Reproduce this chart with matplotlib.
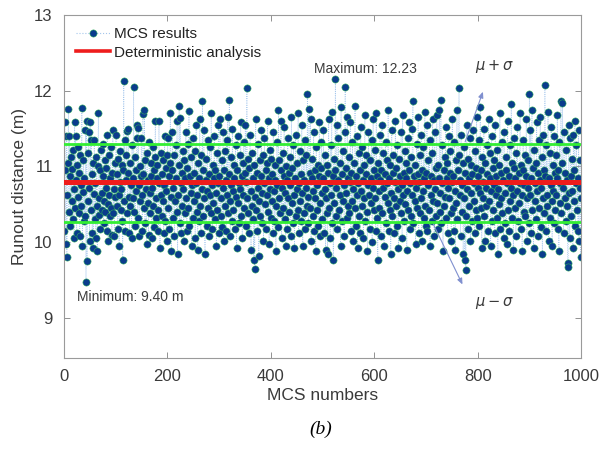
import numpy as np
import matplotlib
import matplotlib.pyplot as plt
from matplotlib.lines import Line2D

matplotlib.use("Agg")
plt.rcParams["font.family"] = ["Liberation Sans", "DejaVu Sans"]

# ── Data ──────────────────────────────────────────────────────────────────────
runout = [
    # 0-49
    10.15, 11.58, 10.95, 9.98, 11.40, 9.80, 10.62, 11.05, 11.76, 10.40,
    11.40, 10.88, 10.22, 11.12, 10.55, 10.97, 10.30, 11.22, 10.70, 10.05,
    11.58, 10.45, 11.40, 10.82, 10.12, 11.02, 10.60, 11.25, 10.38, 10.92,
    10.08, 11.15, 10.48, 10.75, 11.77, 9.95, 10.66, 11.08, 10.28, 10.85,
    10.35, 11.48, 9.47, 11.60, 9.75, 10.55, 11.18, 11.45, 10.72, 10.02,
    # 50-99
    11.58, 10.42, 11.35, 10.90, 10.12, 11.05, 9.92, 10.64, 11.35, 10.30,
    10.78, 10.05, 11.12, 10.48, 9.88, 11.00, 11.71, 10.36, 10.58, 10.95,
    10.18, 11.22, 10.65, 10.42, 10.88, 11.30, 10.25, 10.55, 11.08, 10.40,
    10.72, 10.98, 10.15, 11.42, 10.50, 10.02, 11.15, 10.62, 10.35, 10.85,
    11.25, 10.45, 10.10, 10.92, 11.48, 10.38, 10.70, 10.08, 11.05, 10.60,
    # 100-149
    11.42, 10.48, 10.90, 10.18, 11.10, 10.62, 9.95, 10.80, 11.20, 10.42,
    10.70, 11.02, 10.28, 9.77, 10.95, 12.13, 10.55, 11.35, 10.15, 10.82,
    11.15, 11.47, 10.38, 10.92, 11.49, 10.60, 10.12, 11.05, 10.48, 10.75,
    10.05, 11.28, 10.58, 10.85, 12.05, 10.40, 11.12, 10.22, 10.68, 10.95,
    11.55, 11.38, 10.32, 11.51, 10.75, 10.08, 11.00, 10.55, 10.88, 11.38,
    # 150-199
    10.62, 10.15, 11.69, 10.90, 10.45, 11.75, 10.25, 11.08, 10.70, 9.98,
    11.18, 10.52, 10.82, 10.10, 11.32, 10.65, 10.38, 11.05, 10.88, 10.05,
    10.72, 11.25, 10.48, 10.95, 10.20, 11.12, 11.60, 10.58, 10.32, 10.85,
    11.02, 10.42, 10.15, 11.60, 10.78, 9.92, 10.62, 11.18, 10.35, 10.90,
    10.55, 11.08, 10.12, 10.75, 11.40, 10.28, 10.98, 10.68, 10.02, 11.15,
    # 200-249
    11.38, 10.45, 10.88, 10.18, 11.05, 11.70, 10.60, 9.88, 10.95, 11.46,
    10.32, 10.72, 11.15, 10.08, 10.55, 11.28, 10.85, 10.40, 11.60, 9.85,
    10.62, 11.02, 11.80, 10.25, 11.64, 10.78, 10.12, 10.92, 10.48, 11.20,
    10.70, 10.02, 11.08, 10.38, 10.85, 11.45, 10.58, 10.15, 10.98, 11.30,
    10.45, 11.73, 10.22, 10.88, 10.65, 11.12, 9.95, 10.75, 11.38, 10.32,
    # 250-299
    10.92, 10.55, 11.20, 10.05, 10.78, 11.55, 10.40, 10.62, 9.90, 11.05,
    10.28, 10.85, 11.62, 10.48, 10.12, 11.15, 10.70, 11.86, 10.35, 10.95,
    11.48, 10.58, 9.85, 10.82, 11.10, 10.22, 10.68, 11.35, 10.45, 10.90,
    10.08, 11.25, 10.62, 10.38, 11.70, 10.75, 10.18, 11.02, 10.52, 10.85,
    11.40, 10.30, 10.95, 10.65, 9.95, 11.18, 10.42, 10.78, 11.55, 10.12,
    # 300-349
    10.88, 11.62, 10.35, 10.58, 11.08, 10.20, 10.72, 11.45, 10.02, 10.95,
    11.20, 10.48, 10.82, 10.15, 11.35, 10.62, 11.65, 10.38, 10.90, 11.88,
    10.55, 10.08, 11.12, 10.75, 10.28, 11.50, 10.68, 10.42, 11.02, 10.85,
    10.18, 11.28, 10.60, 9.92, 10.95, 11.40, 10.52, 10.78, 10.25, 11.15,
    10.70, 11.58, 10.35, 10.88, 10.05, 11.05, 10.62, 11.32, 10.45, 10.92,
    # 350-399
    11.55, 10.22, 10.80, 12.04, 10.58, 11.10, 10.38, 10.98, 10.12, 11.42,
    10.68, 9.90, 11.18, 10.48, 10.85, 10.30, 9.76, 11.02, 9.65, 10.60,
    11.62, 10.42, 10.92, 10.15, 11.30, 10.72, 9.82, 10.55, 11.08, 10.35,
    10.88, 11.48, 10.25, 10.65, 11.15, 10.02, 10.78, 11.38, 10.50, 10.95,
    10.18, 11.05, 10.62, 11.60, 10.40, 10.85, 9.98, 11.22, 10.70, 10.32,
    # 400-449
    11.10, 10.55, 10.90, 10.12, 11.45, 10.68, 10.28, 11.02, 10.82, 9.88,
    10.48, 11.32, 10.75, 10.20, 11.74, 10.58, 11.08, 10.38, 10.95, 11.60,
    10.05, 10.72, 11.18, 10.45, 10.88, 11.52, 10.30, 10.65, 9.95, 11.00,
    10.82, 10.18, 11.38, 10.58, 10.92, 10.40, 11.12, 10.75, 10.08, 11.65,
    10.52, 10.98, 10.25, 11.28, 10.62, 9.92, 10.85, 11.42, 10.35, 10.70,
    # 450-499
    11.05, 10.42, 11.70, 10.12, 10.78, 11.20, 10.55, 10.90, 10.28, 11.55,
    10.65, 9.95, 11.08, 10.38, 10.82, 11.35, 10.18, 10.72, 11.15, 10.48,
    11.96, 10.60, 10.25, 11.76, 10.92, 10.45, 11.62, 10.02, 10.85, 11.10,
    10.35, 10.68, 11.45, 10.15, 10.95, 10.58, 9.88, 11.25, 10.75, 10.42,
    11.02, 10.22, 10.88, 11.58, 10.52, 10.08, 10.98, 11.32, 10.65, 10.30,
    # 500-549
    10.85, 11.48, 10.12, 10.70, 11.15, 9.90, 10.58, 11.02, 10.38, 9.85,
    10.92, 11.62, 10.45, 10.78, 10.05, 11.28, 10.62, 11.72, 10.25, 10.88,
    9.77, 11.10, 10.52, 10.95, 12.15, 10.35, 10.72, 11.55, 10.18, 10.82,
    11.38, 10.42, 11.05, 10.62, 9.95, 11.78, 10.28, 10.90, 11.20, 10.55,
    10.75, 10.08, 11.45, 12.05, 10.65, 10.98, 10.32, 11.65, 10.48, 10.85,
    # 550-599
    11.12, 10.38, 10.80, 11.58, 10.15, 10.92, 10.55, 11.32, 10.02, 10.70,
    11.05, 10.45, 11.80, 10.22, 10.88, 10.62, 11.40, 9.92, 10.78, 11.18,
    10.35, 10.95, 10.12, 11.52, 10.68, 10.48, 11.25, 10.82, 10.05, 11.02,
    10.58, 11.68, 10.28, 10.90, 11.15, 10.40, 9.88, 10.75, 11.45, 10.62,
    10.18, 11.08, 10.85, 10.52, 11.35, 10.00, 10.72, 11.62, 10.42, 10.95,
    # 600-649
    11.22, 10.58, 10.15, 11.70, 10.88, 10.32, 9.76, 11.05, 10.68, 10.45,
    11.42, 10.82, 10.08, 10.95, 11.55, 10.38, 10.72, 11.18, 9.95, 10.60,
    10.90, 11.32, 10.25, 10.78, 11.08, 10.52, 11.75, 10.15, 10.85, 10.42,
    11.02, 9.85, 10.65, 11.48, 10.35, 10.92, 11.15, 10.58, 10.12, 10.80,
    11.60, 10.48, 10.98, 10.22, 11.28, 10.70, 9.92, 11.10, 10.55, 10.88,
    # 650-699
    10.38, 11.45, 10.75, 10.05, 11.68, 10.62, 10.92, 10.28, 11.20, 10.50,
    10.85, 11.05, 9.90, 10.68, 11.38, 10.42, 10.95, 11.58, 10.18, 10.78,
    11.12, 10.35, 10.62, 11.50, 11.86, 10.25, 10.88, 11.02, 10.55, 9.98,
    10.72, 11.30, 10.45, 10.90, 11.65, 10.12, 10.80, 11.15, 10.38, 10.58,
    11.42, 10.02, 10.95, 10.68, 11.25, 10.32, 10.85, 11.72, 10.48, 10.22,
    # 700-749
    10.92, 11.55, 10.15, 10.75, 11.08, 10.42, 11.35, 9.95, 10.62, 10.88,
    11.18, 10.28, 11.62, 10.55, 10.82, 10.08, 11.45, 10.70, 10.98, 10.35,
    11.68, 10.52, 10.18, 11.02, 10.85, 11.75, 10.40, 10.65, 11.88, 10.25,
    10.78, 11.28, 9.88, 10.95, 10.48, 11.12, 10.60, 11.52, 10.32, 10.85,
    11.05, 10.12, 10.72, 11.40, 10.58, 10.92, 11.20, 10.38, 10.02, 10.80,
    # 750-799
    11.62, 10.45, 10.88, 10.15, 11.32, 10.68, 9.90, 11.08, 10.52, 11.75,
    10.30, 10.95, 11.15, 12.04, 10.62, 10.82, 10.08, 11.42, 10.40, 10.75,
    11.05, 9.85, 10.58, 11.25, 9.76, 10.92, 9.64, 10.35, 11.55, 10.70,
    10.18, 11.10, 10.48, 10.85, 11.38, 10.02, 10.65, 11.02, 10.28, 10.90,
    11.48, 10.55, 10.78, 10.12, 11.20, 10.42, 10.98, 11.65, 10.32, 10.72,
    # 800-849
    10.88, 11.35, 10.22, 10.65, 11.78, 10.45, 10.95, 9.92, 11.12, 10.58,
    10.80, 11.50, 10.35, 10.02, 11.05, 10.72, 10.48, 11.28, 10.90, 10.15,
    11.62, 10.55, 10.85, 11.18, 9.95, 10.68, 11.40, 10.28, 10.98, 10.42,
    10.75, 11.08, 10.12, 11.55, 10.62, 10.88, 10.32, 11.22, 9.85, 10.70,
    11.02, 10.50, 11.70, 10.18, 10.92, 10.58, 11.32, 10.38, 10.82, 10.05,
    # 850-899
    11.45, 10.65, 10.25, 10.95, 11.12, 9.98, 10.78, 11.60, 10.42, 10.88,
    10.15, 11.28, 10.55, 10.72, 11.82, 10.32, 11.05, 10.62, 9.90, 10.98,
    11.38, 10.45, 10.85, 10.08, 11.18, 10.68, 11.52, 10.28, 10.92, 10.52,
    10.78, 11.70, 10.18, 11.02, 10.62, 9.88, 10.95, 11.35, 10.40, 10.75,
    11.15, 10.35, 10.88, 11.62, 10.02, 10.58, 11.08, 10.72, 10.25, 11.96,
    # 900-949
    10.62, 11.48, 10.12, 10.85, 11.75, 10.42, 10.98, 9.92, 11.22, 10.55,
    10.78, 11.05, 10.30, 11.58, 10.68, 10.08, 10.92, 11.35, 10.45, 10.82,
    11.65, 10.20, 10.72, 11.12, 9.85, 10.58, 11.42, 10.95, 10.38, 12.08,
    10.88, 10.15, 11.28, 10.62, 10.48, 11.72, 10.02, 10.85, 11.18, 10.32,
    10.75, 11.52, 10.55, 9.95, 11.02, 10.68, 10.25, 11.40, 10.92, 10.42,
    # 950-999
    11.15, 10.62, 10.85, 11.68, 10.18, 10.95, 9.88, 11.32, 10.52, 10.78,
    11.86, 10.38, 11.05, 11.84, 10.72, 10.12, 11.45, 10.58, 10.92, 10.28,
    11.22, 10.48, 10.82, 9.73, 9.67, 11.55, 10.65, 10.05, 11.38, 10.88,
    10.35, 11.10, 10.68, 9.92, 11.42, 10.55, 10.95, 11.60, 10.22, 10.78,
    11.28, 10.42, 10.85, 10.15, 11.48, 10.02, 10.72, 11.08, 9.80, 10.58,
]
mcs_numbers = np.arange(1, len(runout) + 1)

deterministic = 10.79
mu_plus_sigma = 11.29
mu_minus_sigma = 10.27
max_label = "Maximum: 12.23"
min_label = "Minimum: 9.40 m"

# ── Figure ────────────────────────────────────────────────────────────────────
fig = plt.figure(figsize=(6.13, 4.5), dpi=100)
ax = fig.add_axes([0.104, 0.204, 0.844, 0.763])

DOT_FACE = "#0a3c8c"
DOT_EDGE = "#35b855"
GREEN = "#33ee33"
RED = "#ee1c1c"
TXT = "#3a3a3a"

ax.plot(mcs_numbers, runout, linestyle=":", color="#a4c6ec", linewidth=0.6,
        marker="o", markersize=5.2, markerfacecolor=DOT_FACE,
        markeredgecolor=DOT_EDGE, markeredgewidth=0.35, zorder=2)

ax.axhline(mu_plus_sigma, color=GREEN, linewidth=2.0, zorder=3)
ax.axhline(mu_minus_sigma, color=GREEN, linewidth=2.0, zorder=3)
ax.axhline(deterministic, color=RED, linewidth=3.6, zorder=4)

ax.set_xlim(0, 1000)
ax.set_ylim(8.47, 13.0)
ax.set_xticks([0, 200, 400, 600, 800, 1000])
ax.set_yticks([9, 10, 11, 12, 13])
ax.tick_params(direction="in", top=True, right=True, length=4, width=0.6,
               color="#808080", labelsize=12, labelcolor=TXT, pad=8)
for s in ax.spines.values():
    s.set_color("#9a9a9a")
    s.set_linewidth(0.8)

ax.set_xlabel("MCS numbers", fontsize=12.5, color=TXT, labelpad=3)
ax.set_ylabel("Runout distance (m)", fontsize=12.5, color=TXT, labelpad=5)

# annotations
ax.text(484, 12.29, max_label, fontsize=10, color=TXT, va="center")
ax.text(25, 9.28, min_label, fontsize=10, color=TXT, va="center")
ax.text(795, 12.32, r"$\mu + \sigma$", fontsize=10.5, color=TXT, va="center")
ax.text(795, 9.20, r"$\mu - \sigma$", fontsize=10.5, color=TXT, va="center")

arrow_kw = dict(arrowstyle="-|>,head_length=0.35,head_width=0.15",
                color="#7f8fcf", linewidth=0.8)
ax.annotate("", xy=(812, 12.02), xytext=(774, mu_plus_sigma), arrowprops=arrow_kw)
ax.annotate("", xy=(773, 9.41), xytext=(712, mu_minus_sigma), arrowprops=arrow_kw)

handles = [
    Line2D([], [], linestyle=":", color="#a4c6ec", linewidth=0.8, marker="o",
           markersize=5.2, markerfacecolor=DOT_FACE, markeredgecolor=DOT_EDGE,
           markeredgewidth=0.35),
    Line2D([], [], color=RED, linewidth=2.6),
]
ax.legend(handles, ["MCS results", "Deterministic analysis"], loc="upper left",
          bbox_to_anchor=(0.0, 1.0), frameon=False, fontsize=11,
          handlelength=2.2, labelspacing=0.3, handletextpad=0.3,
          borderaxespad=0.4, labelcolor="#222222")

fig.text(0.523, 0.046, "(b)", fontsize=14, style="italic",
         family=["Liberation Serif", "DejaVu Serif"], ha="center", va="center")

fig.savefig("out.png", dpi=100)
plt.close(fig)
